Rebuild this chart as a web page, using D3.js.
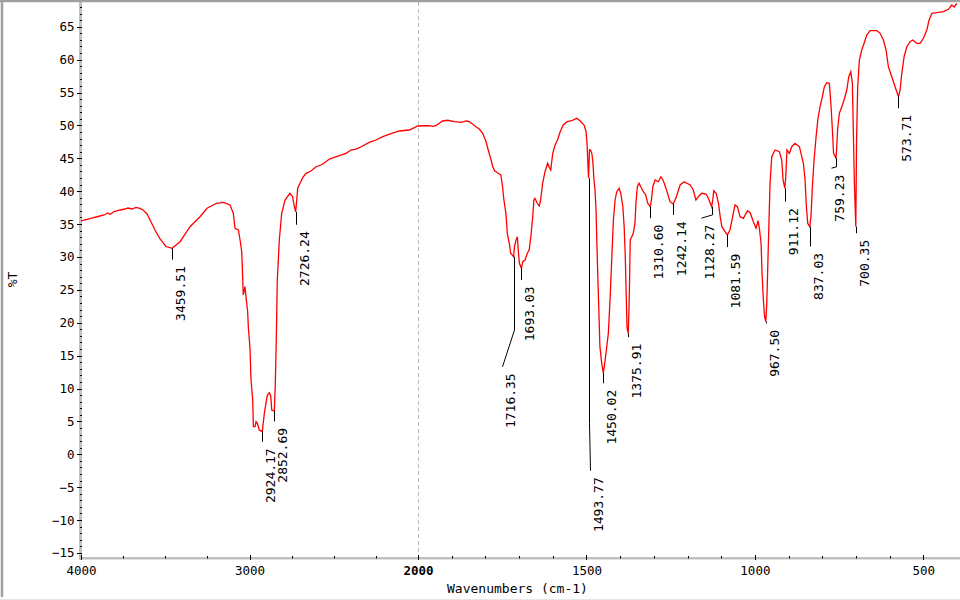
<!DOCTYPE html>
<html>
<head>
<meta charset="utf-8">
<script src="https://cdn.jsdelivr.net/npm/d3@7/dist/d3.min.js"></script>
<style>
  body { margin: 0; background: #fff; }
  svg { display: block; }
  text { font-family: "DejaVu Sans Mono", monospace; fill: #000; }
</style>
</head>
<body>
<svg width="960" height="600"></svg>
<script>
'use strict';

// spectrum (cm-1, %T)
const wavenumbers = [
  4000, 3970, 3935, 3899, 3863, 3840, 3828, 3804, 3768, 3739, 3721, 3697, 3674, 3650, 3632, 3608,
  3590, 3561, 3531, 3495, 3459.51, 3412, 3353, 3294, 3252, 3195, 3155, 3116, 3096, 3086, 3066, 3056,
  3046, 3040, 3037, 3027, 3021, 3011, 3007, 2997, 2991, 2981, 2977, 2967, 2961, 2954, 2942, 2924.17,
  2912, 2904, 2894, 2882, 2874, 2868, 2852.69, 2847, 2841, 2835, 2823, 2809, 2789, 2760, 2744, 2736,
  2726.24, 2719, 2714, 2700, 2684, 2665, 2635, 2605, 2566, 2526, 2497, 2467, 2427, 2398, 2368, 2348,
  2319, 2289, 2249, 2209, 2160, 2111, 2052, 2022, 2000, 1986, 1966, 1956, 1947, 1927, 1912, 1892,
  1872, 1857, 1848, 1838, 1828, 1818, 1808, 1798, 1790, 1783, 1778, 1772, 1762, 1754, 1749, 1745,
  1739, 1735, 1729, 1725, 1716.35, 1713.5, 1709, 1705, 1702, 1699, 1693.03, 1689, 1682, 1675.5, 1670, 1665,
  1659.5, 1656, 1653, 1646, 1640, 1636, 1630, 1623, 1615, 1611, 1606, 1600, 1593, 1586, 1578, 1569,
  1557, 1544, 1529, 1519, 1507, 1501, 1498, 1493.77, 1491, 1488, 1484, 1481, 1477.5, 1474.5, 1471.5, 1469,
  1466.5, 1463.5, 1460, 1454.6, 1450.02, 1447, 1442, 1435, 1430, 1425, 1420, 1415, 1410, 1403, 1398, 1392,
  1388, 1385, 1382, 1379.5, 1375.91, 1373, 1370, 1365.5, 1361, 1356, 1353, 1349, 1344, 1338, 1331, 1324,
  1318, 1310.60, 1307, 1303, 1296, 1286.5, 1279, 1272, 1262, 1252, 1242.14, 1233, 1222, 1210, 1192, 1183,
  1175, 1168, 1158, 1145, 1138, 1128.27, 1125, 1122, 1115, 1108, 1103, 1098, 1088.5, 1081.59, 1074, 1066,
  1059, 1052, 1044, 1034, 1022, 1014, 1004.5, 996.5, 990.5, 986.7, 981.6, 978.7, 974.8, 971.2, 967.50, 964.7,
  961.7, 958.8, 954.9, 949.9, 940, 927.3, 920.2, 916.3, 911.12, 908.3, 904.7, 897.6, 890.5, 880.7, 867.9, 860.8,
  856, 851, 847.1, 843, 837.03, 833.5, 829.3, 824.3, 818.3, 813.3, 806.5, 799.6, 793.7, 786.6, 778.9, 773.8,
  769.9, 766.4, 759.23, 756.9, 754.5, 749.2, 742, 735.2, 727.2, 721.3, 715.3, 710.6, 707.6, 704.6, 700.35, 698.1,
  694.8, 689.8, 682.7, 675.8, 667.8, 658, 638.1, 628.3, 618.5, 610.5, 603.7, 593.6, 583.8, 573.71, 568.9, 563.9,
  557, 549, 539.3, 531.2, 519.4, 509.6, 499.8, 489.7, 482.8, 474.8, 460, 440.4, 425.5, 415.4, 408.6, 400.6
];
const transmittance = [
  35.47, 35.69, 35.92, 36.15, 36.38, 36.68, 36.45, 36.91, 37.14, 37.29, 37.44, 37.29, 37.52, 37.37, 37.14, 36.53,
  35.62, 34.10, 32.73, 31.59, 31.32, 32.32, 34.60, 36.12, 37.40, 38.16, 38.31, 37.90, 36.64, 34.36, 34.10, 32.58,
  30.80, 26.50, 24.22, 25.48, 23.96, 21.68, 19.40, 16.11, 11.30, 8.25, 4.20, 4.20, 4.96, 4.71, 3.69, 3.44,
  6.23, 7.49, 9.01, 9.36, 8.86, 6.73, 6.58, 10.54, 17.38, 26.50, 32.58, 36.64, 38.66, 39.68, 39.16, 37.90,
  36.84, 38.81, 40.44, 41.20, 42.05, 42.72, 43.07, 43.72, 44.09, 44.89, 45.15, 45.39, 45.76, 46.26, 46.41, 46.61,
  47.02, 47.43, 47.78, 48.28, 48.74, 49.15, 49.30, 49.65, 49.91, 49.95, 49.95, 49.86, 49.95, 50.67, 50.78, 50.56,
  50.47, 50.67, 50.56, 50.21, 49.80, 49.45, 48.80, 47.52, 46.00, 44.74, 43.72, 43.07, 42.72, 42.46, 40.68, 38.66,
  36.64, 33.60, 32.08, 30.56, 30.04, 31.56, 32.58, 33.08, 30.80, 29.04, 28.28, 29.28, 29.54, 30.56, 31.06, 33.08,
  36.12, 38.66, 38.92, 38.16, 37.75, 38.66, 41.20, 42.96, 44.24, 43.72, 43.22, 45.76, 47.02, 47.78, 49.04, 50.06,
  50.56, 50.71, 51.08, 50.71, 50.06, 49.04, 47.02, 41.96, 46.26, 46.26, 45.76, 44.48, 41.70, 40.18, 37.14, 32.08,
  27.52, 22.44, 16.36, 13.83, 12.36, 13.32, 15.35, 18.39, 23.46, 29.54, 35.62, 38.66, 39.92, 40.44, 39.68, 37.64,
  34.60, 30.56, 24.48, 19.20, 18.39, 23.46, 32.58, 33.08, 33.60, 35.12, 38.16, 40.68, 41.20, 40.59, 39.92, 39.42,
  38.16, 37.64, 38.66, 40.68, 41.70, 41.44, 42.20, 41.62, 40.18, 38.40, 38.05, 39.16, 40.94, 41.44, 40.94, 40.18,
  38.66, 39.16, 39.68, 39.57, 38.92, 37.64, 38.66, 40.07, 39.68, 38.16, 36.12, 34.60, 33.84, 33.34, 34.10, 36.12,
  37.90, 37.64, 36.12, 35.88, 37.03, 36.73, 35.36, 34.36, 35.51, 34.36, 32.08, 27.52, 23.46, 20.92, 20.16, 22.96,
  28.52, 34.10, 41.20, 45.24, 46.26, 46.00, 44.74, 41.70, 40.44, 42.20, 46.26, 45.76, 46.76, 47.28, 46.76, 45.24,
  44.24, 41.70, 37.64, 35.12, 34.60, 36.12, 40.68, 44.74, 48.28, 50.82, 52.84, 54.36, 55.88, 56.49, 56.40, 52.84,
  49.30, 45.76, 45.00, 46.76, 49.30, 51.84, 52.84, 53.86, 55.38, 57.40, 58.16, 56.40, 48.80, 41.20, 34.60, 47.78,
  55.88, 59.94, 61.46, 62.48, 63.74, 64.40, 64.40, 64.00, 62.98, 61.46, 58.92, 57.40, 55.88, 54.36, 55.38, 57.92,
  60.44, 61.96, 62.72, 62.98, 62.48, 62.48, 63.24, 64.50, 66.02, 67.04, 67.13, 67.29, 67.65, 68.30, 68.00, 68.53
];

// labelled peaks and where their leader lines end (%T, cm-1)
const peakWn = [3459.51, 2924.17, 2852.69, 2726.24, 1716.35, 1693.03, 1493.77, 1450.02, 1375.91, 1310.60,
  1242.14, 1128.27, 1081.59, 967.50, 911.12, 837.03, 759.23, 700.35, 573.71];
const leaderKneeT = [29.6, 1.9, 5.0, 34.9, 18.9, 26.5, 4.7, 10.8, 17.8, 35.9,
  36.4, 36.4, 31.5, 19.9, 38.4, 31.6, 43.7, 33.6, 52.6];
const leaderEndT = [29.6, 1.9, 5.0, 34.9, 13.3, 26.5, -2.5, 10.8, 17.8, 35.9,
  36.4, 35.9, 31.5, 19.9, 38.4, 31.6, 43.5, 33.6, 52.6];
const leaderEndWn = [3459.51, 2924.17, 2852.69, 2726.24, 1751.5, 1693.03, 1490.8, 1450.02, 1375.91, 1310.60,
  1242.14, 1160.7, 1081.59, 967.50, 911.12, 837.03, 774.7, 700.35, 573.71];

const xMajor = [4000, 3000, 2000, 1500, 1000, 500];
const yMajor = d3.range(-15, 66, 5);

const svg = d3.select("svg");
const x = d3.scaleLinear().domain([4000, 2000, 400]).range([81, 418, 957]);
const y = d3.scaleLinear().domain([-15.69, 68.76]).range([557.5, 2]);

// window frame
svg.append("line").attr("x1", 2).attr("x2", 2).attr("y1", 0).attr("y2", 597)
  .attr("stroke", "#a0a0a0").attr("stroke-width", 2.5);
svg.append("line").attr("x1", 0).attr("x2", 960).attr("y1", 1).attr("y2", 1)
  .attr("stroke", "#a0a0a0").attr("stroke-width", 2.5);
svg.append("line").attr("x1", 0).attr("x2", 960).attr("y1", 599.5).attr("y2", 599.5)
  .attr("stroke", "#e6e6e6").attr("stroke-width", 1);

// dashed break at 2000
svg.append("line")
  .attr("x1", x(2000) + 0.5).attr("x2", x(2000) + 0.5)
  .attr("y1", 2).attr("y2", 557)
  .attr("stroke", "#bbbbbb").attr("stroke-dasharray", "4,3");

// grey axis bars
svg.append("rect").attr("x", 79).attr("y", 2).attr("width", 3).attr("height", 557.5)
  .attr("fill", "#c0c0c0");
svg.append("rect").attr("x", 79).attr("y", 557).attr("width", 960 - 79).attr("height", 2.5)
  .attr("fill", "#c0c0c0");

// y axis
const yAxis = svg.append("g")
  .attr("transform", "translate(82,0)")
  .call(d3.axisLeft(y).tickValues(yMajor).tickSize(5).tickPadding(2.5));
yAxis.select(".domain").remove();
yAxis.selectAll("text").attr("font-size", 12.5).attr("font-family", "DejaVu Sans Mono");
yAxis.selectAll("line").attr("stroke", "#000").attr("shape-rendering", "crispEdges");

svg.append("g").selectAll("line")
  .data(d3.range(-15, 69))
  .join("line")
  .attr("x1", 80).attr("x2", 82)
  .attr("y1", d => Math.round(y(d)) + 0.5).attr("y2", d => Math.round(y(d)) + 0.5)
  .attr("stroke", "#000");

// x axis
const xAxis = svg.append("g")
  .attr("transform", "translate(0,555)")
  .call(d3.axisBottom(x).tickValues(xMajor).tickSize(5).tickPadding(6).tickFormat(d3.format("d")));
xAxis.select(".domain").remove();
xAxis.selectAll("text").attr("font-size", 12.5).attr("font-family", "DejaVu Sans Mono")
  .attr("font-weight", d => d === 2000 ? "bold" : null);
xAxis.selectAll("line").attr("stroke", "#000").attr("shape-rendering", "crispEdges");

const xMinor = d3.range(3750, 2000, -250).concat(d3.range(1900, 400, -100))
  .filter(d => !xMajor.includes(d));
svg.append("g").selectAll("line")
  .data(xMinor)
  .join("line")
  .attr("x1", d => Math.round(x(d)) + 0.5).attr("x2", d => Math.round(x(d)) + 0.5)
  .attr("y1", 556).attr("y2", 558.5)
  .attr("stroke", "#000");

// axis titles
svg.append("text")
  .attr("x", 517.5).attr("y", 592.5)
  .attr("text-anchor", "middle").attr("font-size", 13)
  .text("Wavenumbers (cm-1)");
svg.append("text")
  .attr("transform", "translate(17,279.5) rotate(-90)")
  .attr("text-anchor", "middle").attr("font-size", 13)
  .text("%T");

// spectrum
const spectrum = wavenumbers.map((w, i) => [w, transmittance[i]]);
const line = d3.line().x(d => x(d[0])).y(d => y(d[1]));
svg.append("path")
  .datum(spectrum)
  .attr("d", line)
  .attr("fill", "none")
  .attr("stroke", "#ff0000")
  .attr("stroke-width", 1.3)
  .attr("stroke-linejoin", "miter");

// peak labels
const peaks = peakWn.map((w, i) => ({
  wn: w,
  t: transmittance[wavenumbers.indexOf(w)],
  knee: leaderKneeT[i],
  endT: leaderEndT[i],
  endWn: leaderEndWn[i]
}));

const peakG = svg.append("g");
peakG.selectAll("path")
  .data(peaks)
  .join("path")
  .attr("d", d => {
    const px = Math.round(x(d.wn)) + 0.5;
    return `M${px},${y(d.t)}V${y(d.knee)}L${Math.round(x(d.endWn)) + 0.5},${y(d.endT)}`;
  })
  .attr("fill", "none")
  .attr("stroke", "#000")
  .attr("stroke-width", 1);

peakG.selectAll("text")
  .data(peaks)
  .join("text")
  .attr("transform", d => `translate(${x(d.endWn) + 13},${y(d.endT) + 6.5}) rotate(-90)`)
  .attr("text-anchor", "end")
  .attr("font-size", 13)
  .text(d => d3.format(".2f")(d.wn));
</script>
</body>
</html>
